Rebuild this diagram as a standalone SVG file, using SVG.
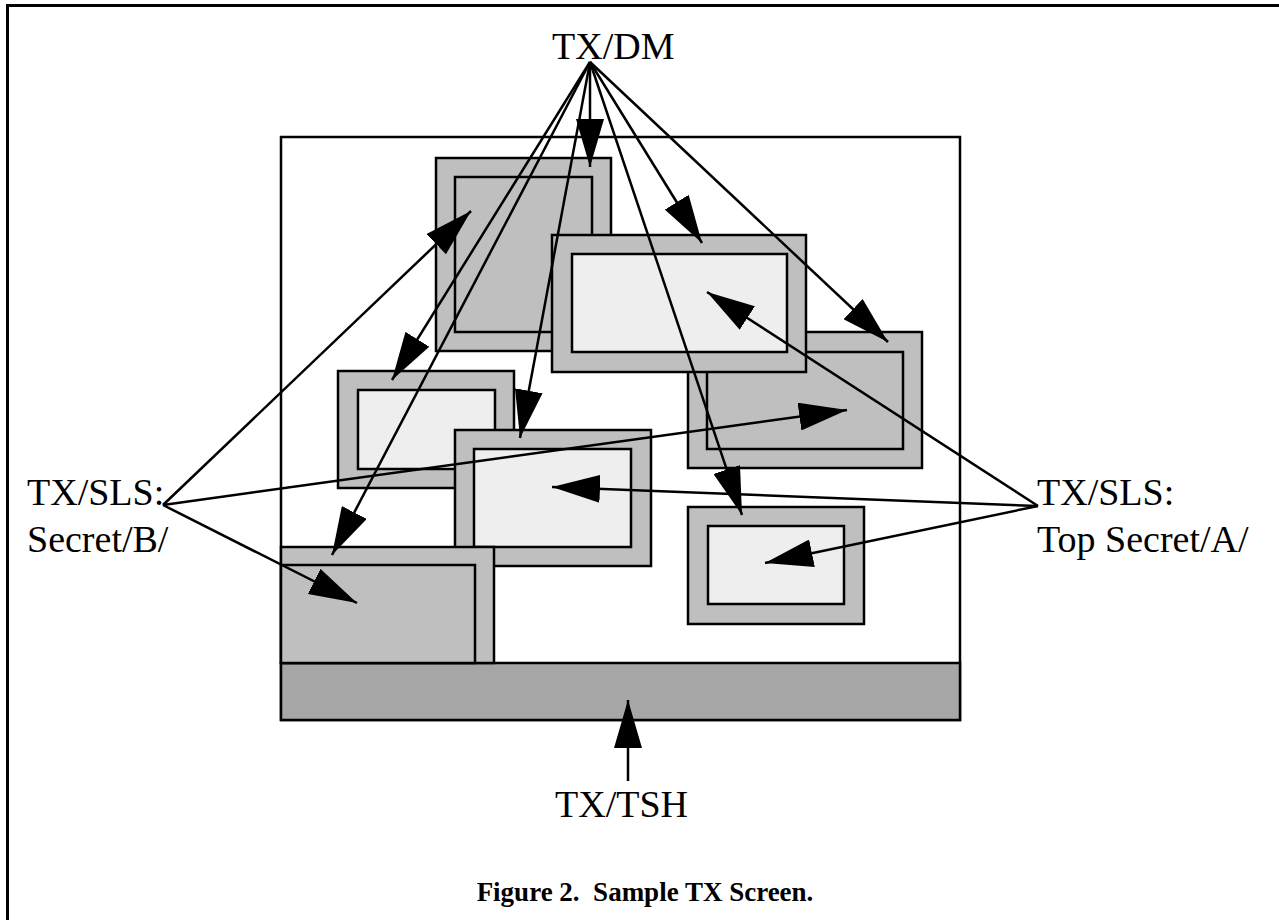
<svg xmlns="http://www.w3.org/2000/svg" width="1279" height="920" viewBox="0 0 1279 920">
<style>
.lbl{font-family:"Liberation Serif","Times New Roman",serif;font-size:38px;fill:#000}
.cap{font-family:"Liberation Serif","Times New Roman",serif;font-size:27px;font-weight:bold;fill:#000}
.frame{fill:#bfbfbf;stroke:#000;stroke-width:2.5}
.dark{fill:#bfbfbf;stroke:#000;stroke-width:2.5}
.light{fill:#eeeeee;stroke:#000;stroke-width:2.5}
.conn line{stroke:#000;stroke-width:2.5;marker-end:url(#ah)}
</style>
<defs>
<marker id="ah" markerUnits="userSpaceOnUse" markerWidth="48" markerHeight="28" viewBox="0 0 48 28" refX="48" refY="14" orient="auto">
<path d="M0,0 L48,14 L0,28 z" fill="#000"/>
</marker>
</defs>
<rect width="1279" height="920" fill="#fff"/>
<path d="M7.5,920 V5.5 H1279" fill="none" stroke="#000" stroke-width="3"/>
<g id="screen">
<rect x="281" y="137" width="679" height="583" fill="#fff" stroke="#000" stroke-width="2.5"/>
</g>
<g id="taskbar">
<rect x="281" y="663" width="679" height="57" fill="#a6a6a6" stroke="#000" stroke-width="2.5"/>
</g>
<g id="win1">
<rect class="frame" x="436" y="158" width="175" height="193"/>
<rect class="dark" x="455" y="177" width="137" height="155"/>
</g>
<g id="win3">
<rect class="frame" x="688" y="332" width="234" height="136"/>
<rect class="dark" x="707" y="352" width="196" height="97"/>
</g>
<g id="win2">
<rect class="frame" x="552" y="235" width="254" height="137"/>
<rect class="light" x="572" y="254" width="215" height="98"/>
</g>
<g id="win4">
<rect class="frame" x="338" y="371" width="176" height="117"/>
<rect class="light" x="358" y="390" width="137" height="79"/>
</g>
<g id="win5">
<rect class="frame" x="455" y="430" width="196" height="136"/>
<rect class="light" x="474" y="449" width="157" height="98"/>
</g>
<g id="win7">
<rect class="frame" x="281" y="547" width="213" height="116"/>
<rect class="dark" x="281" y="565" width="194" height="98"/>
</g>
<g id="win6">
<rect class="frame" x="688" y="507" width="176" height="117"/>
<rect class="light" x="708" y="526" width="136" height="78"/>
</g>
<g id="connectors" class="conn">
<line x1="590" y1="62" x2="590" y2="167"/>
<line x1="590" y1="62" x2="702" y2="243"/>
<line x1="590" y1="62" x2="888" y2="342"/>
<line x1="590" y1="62" x2="392" y2="380"/>
<line x1="590" y1="62" x2="520" y2="438"/>
<line x1="590" y1="62" x2="332" y2="555"/>
<line x1="590" y1="62" x2="742" y2="515"/>
<line x1="163" y1="505" x2="471" y2="211"/>
<line x1="163" y1="505" x2="847" y2="410"/>
<line x1="163" y1="505" x2="357" y2="603"/>
<line x1="1038" y1="506" x2="707" y2="292"/>
<line x1="1038" y1="506" x2="552" y2="487"/>
<line x1="1038" y1="506" x2="765" y2="563"/>
<line x1="628" y1="781" x2="628" y2="700"/>
</g>
<g id="label-dm"><text class="lbl" x="552" y="59">TX/DM</text></g>
<g id="label-sls-secret">
<text class="lbl" x="27" y="505">TX/SLS:</text>
<text class="lbl" x="27" y="552">Secret/B/</text>
</g>
<g id="label-sls-topsecret">
<text class="lbl" x="1037" y="505">TX/SLS:</text>
<text class="lbl" x="1037" y="552">Top Secret/A/</text>
</g>
<g id="label-tsh"><text class="lbl" x="555" y="817">TX/TSH</text></g>
<g id="caption"><text class="cap" x="645" y="901" text-anchor="middle" xml:space="preserve">Figure 2.  Sample TX Screen.</text></g>
</svg>
